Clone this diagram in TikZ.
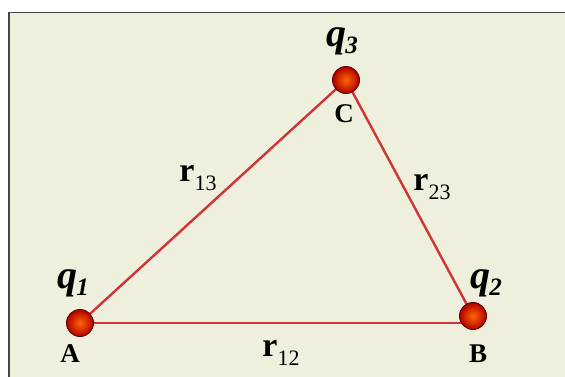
\documentclass[tikz,border=0pt]{standalone}
\usepackage{fontspec}
\setmainfont{Liberation Serif}
\usepackage{xcolor}
\usetikzlibrary{positioning}

\definecolor{paper}{RGB}{239,239,221}
\definecolor{edge}{RGB}{208,52,52}
\definecolor{frame}{RGB}{70,70,70}

\begin{document}
\begin{tikzpicture}[
    x=1pt, y=-1pt,
    charge/.style={circle, minimum size=27pt, inner sep=0pt, draw=red!35!black, line width=0.9pt, inner color=orange!80!red, outer color=red!70!black},
    side/.style={draw=edge, line width=2.4pt},
    qlabel/.style={font=\fontsize{40}{40}\selectfont\bfseries\itshape, inner sep=0pt},
    ptlabel/.style={font=\fontsize{27}{27}\selectfont\bfseries, inner sep=0pt},
    rlabel/.style={font=\fontsize{34}{34}\selectfont\bfseries, inner sep=0pt}
]
\useasboundingbox (0,0) rectangle (565,376);
\clip (0,0) rectangle (565,376);
\fill[white] (0,0) rectangle (565,376);
\draw[frame, fill=paper, line width=1.8pt] (9,12.5) rectangle (600,400);

% Nodes
\coordinate (A) at (80,323);
\coordinate (B) at (473,316);
\coordinate (C) at (346,80);

% Edges
\draw[side] (A) -- (A -| B);
\draw[side] (A) -- (C);
\draw[side] (C) -- (B);

\node[charge] (qA) at (A) {};
\node[charge] (qB) at (B) {};
\node[charge] (qC) at (C) {};

\node[qlabel] (q1) at (73,283) {q\kern-1pt\lower7pt\hbox{\fontsize{25}{25}\selectfont 1}};
\node[qlabel] (q2) at (486,283) {q\kern-1pt\lower7pt\hbox{\fontsize{25}{25}\selectfont 2}};
\node[qlabel] (q3) at (342,41) {q\kern-1pt\lower7pt\hbox{\fontsize{25}{25}\selectfont 3}};

\node[ptlabel] (labA) at (70,354) {A};
\node[ptlabel] (labB) at (478,354) {B};
\node[ptlabel] (labC) at (344,114) {C};

\node[rlabel] (r13) at (198,178) {r\lower9pt\hbox{\fontsize{22}{22}\selectfont\mdseries 13}};
\node[rlabel] (r23) at (432,187) {r\lower9pt\hbox{\fontsize{22}{22}\selectfont\mdseries 23}};
\node[rlabel] (r12) at (281,353) {r\lower9pt\hbox{\fontsize{22}{22}\selectfont\mdseries 12}};
\end{tikzpicture}
\end{document}
